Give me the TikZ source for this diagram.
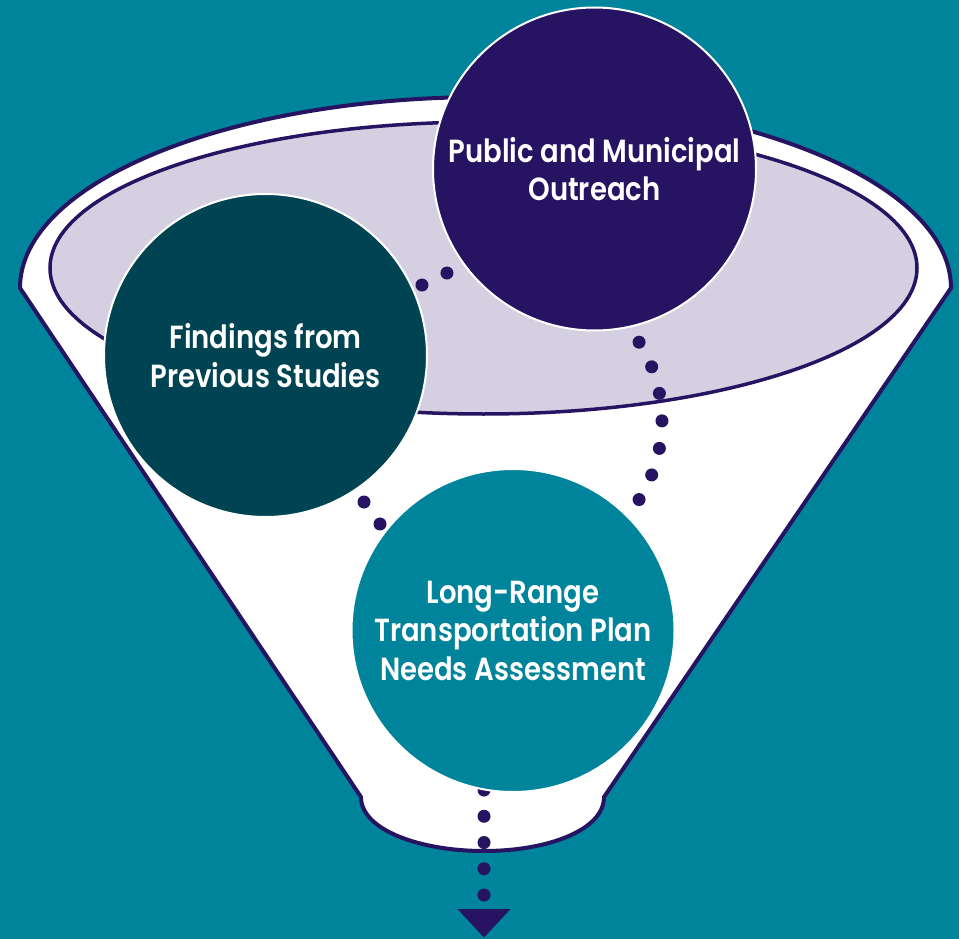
\documentclass[tikz,border=0pt]{standalone}
\usepackage{fontspec}
\newfontfamily\labelfont{Poppins SemiBold}[FakeStretch=0.86]
\usetikzlibrary{calc}
\definecolor{bgteal}{RGB}{0,132,155}
\definecolor{purp}{RGB}{38,20,99}
\definecolor{darkteal}{RGB}{0,68,83}
\definecolor{lav}{RGB}{213,208,225}
\pgfdeclarelayer{back}
\pgfsetlayers{back,main}
\tikzset{
  bubble/.style={circle, draw=white, line width=2pt, minimum size=323pt, inner sep=0pt,
    text=white, align=center, font=\labelfont\fontsize{32pt}{38.5pt}\selectfont},
  funnelline/.style={draw=purp, line width=4pt, line join=round},
  dotchain/.style={draw=purp, line width=13pt, line cap=round, dash pattern=on 0pt off #1},
  tipfill/.style={fill=purp},
}
\begin{document}
\begin{tikzpicture}[x=1pt,y=1pt]
\useasboundingbox (0,0) rectangle (959,-939);

% circles (nodes)
\node[bubble, fill=purp]     (pub)  at (594.5,-169)   {Public and Municipal\\Outreach};
\node[bubble, fill=darkteal] (find) at (265.5,-355.5) {Findings from\\Previous Studies};
\node[bubble, fill=bgteal]   (lrtp) at (513,-630.5)   {Long-Range\\Transportation Plan\\Needs Assessment};

% connector end points (hidden under the circles)
\coordinate (c1s) at (397,-297);   \coordinate (c1e) at (472,-261);
\coordinate (c2s) at (622.1,-320.4);
\coordinate (c3s) at (348,-480);   \coordinate (c3e) at (396,-546);
\coordinate (c4s) at (484,-763.75); \coordinate (c4e) at (484,-896);
\coordinate (tipL) at (457.5,-909); \coordinate (tipR) at (510.5,-909); \coordinate (tipB) at (484,-937.5);

\begin{pgfonlayer}{back}
  \fill[bgteal] (0,0) rectangle (959,-939);
  % funnel body
  \path[funnelline, fill=white]
    (20,-288) arc[start angle=180, end angle=0, x radius=465.5, y radius=191]
    -- (604,-797)
    .. controls (604,-830) and (548,-851) .. (484,-851)
    .. controls (420,-851) and (361,-830) .. (361,-797)
    -- cycle;
  % inner rim
  \path[draw=purp, line width=3.5pt, fill=lav] (483.5,-268) ellipse[x radius=433.5, y radius=146];
  % dotted connectors
  \draw[dotchain=27.7pt] (c1s) -- (c1e);
  \draw[dotchain=27.68pt] (c2s) arc[start angle=43.3, end angle=-43.3, radius=146.5];
  \draw[dotchain=27.2pt] (c3s) -- (c3e);
  \draw[dotchain=26.25pt] (c4s) -- (c4e);
\end{pgfonlayer}
\fill[tipfill] (tipL) -- (tipR) -- (tipB) -- cycle;
\end{tikzpicture}
\end{document}
